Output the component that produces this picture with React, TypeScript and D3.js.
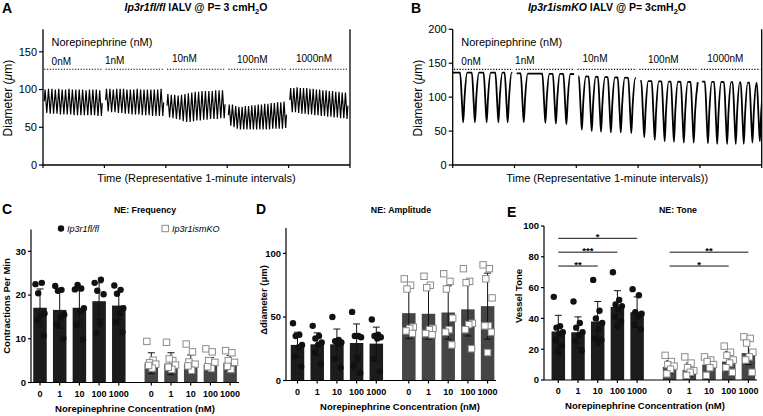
import React from "react";
import * as d3 from "d3";

const FONT = "'Liberation Sans', Arial, Helvetica, sans-serif";

// ---------------- DATA ----------------
const concLabels = ["0nM", "1nM", "10nM", "100nM", "1000nM"];
const neTickLabels = ["0", "1", "10", "100", "1000"];
const traceTicksA = [0, 50, 100, 150];
const traceTicksB = [0, 50, 100, 150, 200];

// Panel A: contraction peaks / troughs per 1-minute segment (µm)
const aPeaks = [
  [100, 101, 101, 100, 101, 100, 100, 101, 100, 100, 100, 100, 99, 100, 100, 100, 99],
  [101, 101, 100, 101, 101, 101, 100, 100, 100, 101, 100, 100, 100, 100, 100, 100, 101],
  [94, 93, 93, 92, 93, 94, 95, 96, 97, 97, 98, 98, 98, 98, 99, 99, 99],
  [80, 80, 78, 77, 77, 78, 78, 79, 79, 80, 80, 81, 81, 82, 82, 83, 83, 84],
  [102, 102, 103, 102, 102, 102, 101, 101, 100, 100, 99, 99, 98, 98, 97, 97, 96, 96],
];
const aTroughs = [
  [69, 68, 68, 68, 67, 67, 67, 67, 66, 66, 66, 66, 66, 66, 66, 65, 65],
  [71, 70, 70, 69, 69, 68, 68, 67, 67, 67, 66, 66, 66, 65, 65, 65, 65],
  [63, 62, 61, 60, 58, 57, 57, 58, 59, 59, 60, 60, 61, 61, 61, 62, 62],
  [52, 50, 48, 47, 47, 47, 47, 47, 47, 47, 47, 47, 47, 48, 48, 48, 48, 49],
  [70, 70, 69, 68, 68, 67, 67, 66, 66, 65, 65, 64, 64, 63, 63, 62, 62, 61],
];
const aRefLine = 127;

// Panel B: baseline (start, end), dip times (fraction of minute), dip minima (µm)
const bBaseline = [
  [136, 136],
  [135, 134],
  [131, 128],
  [124, 122],
  [123, 121],
];
const bDipTimes = [
  [0.17, 0.36, 0.55, 0.74, 0.89],
  [0.15, 0.5, 0.67, 0.84],
  [0.09, 0.25, 0.4, 0.56, 0.72, 0.89],
  [0.1, 0.27, 0.43, 0.58, 0.74, 0.9],
  [0.13, 0.28, 0.44, 0.58, 0.71, 0.85, 0.97],
];
const bDipMins = [
  [63, 63, 63, 63, 63],
  [63, 62, 61, 60],
  [52, 50, 49, 48, 48, 47],
  [41, 37, 35, 34, 33, 33],
  [32, 31, 31, 31, 31, 33, 35],
];
const bRefLine = 141;

// Panel C: frequency (contractions / min)
const freqWTMean = [17.1, 16.6, 17.1, 18.6, 17.6];
const freqWTSd = [4.3, 4.2, 3.9, 4.2, 3.2];
const freqWTPts = [
  [22.5, 22.8, 20.4, 15.8, 15.3, 14.2, 10.7],
  [22.1, 21.2, 21.0, 15.5, 14.8, 13.2, 10.1],
  [21.3, 21.5, 22.3, 17.0, 16.2, 13.2, 9.8],
  [22.8, 23.5, 21.0, 20.2, 13.5, 11.2],
  [22.2, 21.2, 20.3, 17.0, 15.8, 13.8, 11.5],
];
const freqKOMean = [4.4, 4.3, 4.3, 4.1, 4.5];
const freqKOSd = [2.4, 2.5, 2.0, 1.6, 1.7];
const freqKOPts = [
  [9.4, 5.1, 4.5, 4.2, 3.3, 3.9],
  [9.2, 5.0, 5.4, 4.0, 3.0, 3.5],
  [8.8, 7.0, 4.7, 4.2, 2.8, 3.8],
  [7.7, 7.0, 5.0, 4.6, 3.2, 3.6],
  [7.3, 6.8, 5.0, 4.6, 3.0, 3.7],
];

// Panel D: amplitude (Δdiameter µm)
const ampWTMean = [28, 28.5, 28.5, 29.5, 29];
const ampWTSd = [10, 9, 12, 15, 13];
const ampWTPts = [
  [45, 36, 35, 28, 26, 19, 11],
  [43, 35, 33, 30, 28, 22, 13],
  [50, 32, 31, 30, 29, 17, 10],
  [54, 35, 35, 34, 18, 11, 6],
  [48, 36, 35, 34, 33, 17, 7],
];
const ampKOMean = [53, 52.5, 53.5, 56, 58.5];
const ampKOSd = [20, 20, 21, 21, 26];
const ampKOPts = [
  [80, 75, 72, 42, 41, 39, 37],
  [82, 75, 73, 41, 40, 37, 36],
  [84, 78, 72, 49, 40, 38, 28],
  [88, 78, 77, 45, 44, 40, 25],
  [91, 88, 80, 65, 43, 43, 38, 22],
];

// Panel E: tone
const toneWTMean = [31.5, 31, 38, 47.5, 44];
const toneWTSd = [10.5, 10, 13, 10.5, 10];
const toneWTPts = [
  [54, 35, 34, 31, 30, 26, 22, 18],
  [51, 37, 34, 31, 29, 25, 19],
  [65, 45, 40, 37, 33, 27, 26, 24],
  [70, 52, 49, 48, 46, 41, 38, 35],
  [59, 55, 44, 43, 41, 36, 33],
];
const toneKOMean = [8.5, 6.5, 10, 12, 17.5];
const toneKOSd = [4, 4.5, 3.5, 6.5, 7.5];
const toneKOPts = [
  [16, 12, 10, 9, 7, 4],
  [15, 11, 8, 6, 5, 3],
  [15, 13, 12, 10, 8, 3],
  [22, 18, 16, 13, 11, 8, 5],
  [28, 27, 24, 18, 15, 13, 5],
];
const toneSig = [
  { group: 0, from: 0, to: 4, value: 92, label: "*" },
  { group: 0, from: 0, to: 3, value: 83, label: "***" },
  { group: 0, from: 0, to: 2, value: 74, label: "**" },
  { group: 1, from: 0, to: 4, value: 83, label: "**" },
  { group: 1, from: 0, to: 3, value: 74, label: "*" },
];

// ---------------- LAYOUT ----------------
const labelOffsets = [0.14, 0.01, 0.1, 0.16, 0.12];
const labelBaselines = [65, 64, 62.3, 63.3, 62.3];

type Pt = [number, number];

function pathsA(xs: any, ys: any) {
  const line = d3.line<Pt>().x((d) => xs(d[0])).y((d) => ys(d[1]));
  return aPeaks.map((peaks, s) => {
    const troughs = aTroughs[s];
    const n = peaks.length;
    const t0 = s + 0.02;
    const t1 = s + 0.965;
    const dt = (t1 - t0) / n;
    const pts: Pt[] = [[t0, (peaks[0] + troughs[0]) / 2]];
    peaks.forEach((p, k) => {
      pts.push([t0 + (k + 0.25) * dt, p]);
      pts.push([t0 + (k + 0.75) * dt, troughs[k]]);
    });
    pts.push([t1, (peaks[n - 1] + troughs[n - 1]) / 2]);
    return line(pts) as string;
  });
}

function pathsB(xs: any, ys: any) {
  const line = d3
    .line<Pt>()
    .x((d) => xs(d[0]))
    .y((d) => ys(d[1]))
    .curve(d3.curveMonotoneX);
  return bDipTimes.map((times, s) => {
    const [b0, b1] = bBaseline[s];
    const base = (t: number) => b0 + (b1 - b0) * (t - s);
    const t0 = s + (s === 0 ? 0.003 : 0.035);
    const t1 = s + 0.965;
    const pts: Pt[] = [[t0, base(t0)]];
    times.forEach((f, k) => {
      const t = s + f;
      const m = bDipMins[s][k];
      const cand: Pt[] = [
        [t - 0.05, base(t - 0.05)],
        [t - 0.018, base(t) * 0.35 + m * 0.65],
        [t, m],
        [t + 0.022, m * 0.5 + base(t) * 0.5],
        [t + 0.065, base(t + 0.065)],
      ];
      cand.forEach((p) => {
        if (p[0] > pts[pts.length - 1][0] + 0.003) pts.push(p);
      });
    });
    if (t1 > pts[pts.length - 1][0] + 0.003) pts.push([t1, base(t1)]);
    return line(pts) as string;
  });
}

function TracePanel(props: {
  id: string;
  x0: number;
  x1: number;
  y0: number;
  yTop: number;
  yMax: number;
  ticks: number[];
  refLine: number;
  kind: "A" | "B";
  letter: string;
  letterX: number;
  titleX: number;
  titleItalic: string;
  titleRest: string;
  ylabelX: number;
  xlabel: string;
  clipId: string;
}) {
  const xs = d3.scaleLinear().domain([0, 5]).range([props.x0, props.x1]);
  const ys = d3.scaleLinear().domain([0, props.yMax]).range([props.y0, props.yTop]);
  const paths = props.kind === "A" ? pathsA(xs, ys) : pathsB(xs, ys);
  const segs = d3.range(5);
  return (
    <g>
      <defs>
        <clipPath id={props.clipId}>
          <rect x={props.x0} y={props.yTop - 5} width={props.x1 - props.x0} height={props.y0 - props.yTop + 5} />
        </clipPath>
      </defs>
      <text x={props.letterX} y={13} fontSize={14} fontWeight="bold">
        {props.letter}
      </text>
      <text x={props.titleX} y={11} fontSize={10.5} fontWeight="bold" textAnchor="middle">
        <tspan fontStyle="italic">{props.titleItalic}</tspan>
        <tspan>{props.titleRest}</tspan>
        <tspan fontSize={7.5} dy={2.5}>2</tspan>
        <tspan dy={-2.5}>O</tspan>
      </text>
      {/* axes */}
      <line x1={props.x0} x2={props.x0} y1={props.yTop} y2={props.y0} stroke="#000" strokeWidth={1.3} />
      <line x1={props.x1} x2={props.x1} y1={props.yTop} y2={props.y0} stroke="#000" strokeWidth={1.3} />
      <line x1={props.x0} x2={props.x1} y1={props.y0} y2={props.y0} stroke="#000" strokeWidth={1.3} />
      {props.ticks.map((t) => (
        <g key={t}>
          <line x1={props.x0 - 4} x2={props.x0} y1={ys(t)} y2={ys(t)} stroke="#000" strokeWidth={1.2} />
          <text x={props.x0 - 6} y={ys(t)} dy="0.35em" fontSize={11} textAnchor="end">
            {t}
          </text>
        </g>
      ))}
      {d3.range(6).map((i) => (
        <line key={i} x1={xs(i)} x2={xs(i)} y1={props.y0} y2={props.y0 + 3} stroke="#000" strokeWidth={1.2} />
      ))}
      <text
        transform={`translate(${props.ylabelX},${(props.y0 + props.yTop) / 2 + 1}) rotate(-90)`}
        fontSize={12}
        textAnchor="middle"
        dominantBaseline="central"
      >
        Diameter (<tspan fontStyle="italic">μ</tspan>m)
      </text>
      <text x={(props.x0 + props.x1) / 2} y={182} fontSize={11} textAnchor="middle">
        {props.xlabel}
      </text>
      <text x={xs(0) + 8.5} y={46} fontSize={11}>
        Norepinephrine (nM)
      </text>
      {segs.map((s) => (
        <g key={s}>
          <line
            x1={xs(s + 0.02)}
            x2={xs(s + 0.975)}
            y1={ys(props.refLine)}
            y2={ys(props.refLine)}
            stroke="#000"
            strokeWidth={1.1}
            strokeDasharray="1.2,1.6"
          />
          <text x={xs(s + labelOffsets[s])} y={labelBaselines[s]} fontSize={10}>
            {concLabels[s]}
          </text>
        </g>
      ))}
      <g clipPath={`url(#${props.clipId})`}>
        {paths.map((p, i) => (
          <path key={i} d={p} fill="none" stroke="#000" strokeWidth={props.kind === "A" ? 1.2 : 1.8} />
        ))}
      </g>
    </g>
  );
}

const jitter = (i: number) => (((i * 7) % 11) - 5) * 0.9;

function BarPanel(props: {
  axisX: number;
  x0: number;
  y0: number;
  yTop: number;
  yMax: number;
  ticks: number[];
  xEnd: number;
  letter: string;
  letterPos: [number, number];
  title: string;
  titleX: number;
  ylabel: React.ReactNode;
  ylabelPos: [number, number];
  xtitleX: number;
  wtMean: number[];
  wtSd: number[];
  wtPts: number[][];
  koMean: number[];
  koSd: number[];
  koPts: number[][];
  sig?: typeof toneSig;
  legend?: boolean;
}) {
  const y = d3.scaleLinear().domain([0, props.yMax]).range([props.y0, props.yTop]);
  const slot = d3.scaleLinear().domain([0, 1]).range([props.x0, props.x0 + 19.7]);
  const pos = (g: number, j: number) => slot(g === 0 ? j : j + 5.65);
  const bw = 13.5;
  const groups = [
    { mean: props.wtMean, sd: props.wtSd, pts: props.wtPts, fill: "#1c1c1c" },
    { mean: props.koMean, sd: props.koSd, pts: props.koPts, fill: "#454545" },
  ];
  return (
    <g>
      <text x={props.letterPos[0]} y={props.letterPos[1]} fontSize={14} fontWeight="bold">
        {props.letter}
      </text>
      <text x={props.titleX} y={213} fontSize={8.8} fontWeight="bold" textAnchor="middle">
        {props.title}
      </text>
      {props.legend && (
        <g fontSize={9} fontStyle="italic">
          <circle cx={61} cy={228.5} r={3.2} fill="#111" />
          <text x={67} y={231.5}>Ip3r1fl/fl</text>
          <rect x={162} y={225.3} width={6.4} height={6.4} fill="#fff" stroke="#8c8c8c" strokeWidth={1} />
          <text x={172} y={231.5}>Ip3r1ismKO</text>
        </g>
      )}
      {/* bars */}
      {groups.map((gr, g) =>
        gr.mean.map((m, j) => (
          <rect
            key={`b${g}${j}`}
            x={pos(g, j) - bw / 2}
            y={y(m)}
            width={bw}
            height={props.y0 - y(m)}
            fill={gr.fill}
          />
        ))
      )}
      {/* error bars */}
      {groups.map((gr, g) =>
        gr.mean.map((m, j) => {
          const cx = pos(g, j);
          const hi = y(m + gr.sd[j]);
          const lo = y(Math.max(0, m - gr.sd[j]));
          return (
            <g key={`e${g}${j}`} stroke="#111" strokeWidth={1}>
              <line x1={cx} x2={cx} y1={hi} y2={lo} />
              <line x1={cx - 3.5} x2={cx + 3.5} y1={hi} y2={hi} />
              <line x1={cx - 3.5} x2={cx + 3.5} y1={lo} y2={lo} />
            </g>
          );
        })
      )}
      {/* points */}
      {groups.map((gr, g) =>
        gr.pts.map((arr, j) =>
          arr.map((v, i) =>
            g === 0 ? (
              <circle key={`p${g}${j}${i}`} cx={pos(g, j) + jitter(i)} cy={y(v)} r={3.2} fill="#111" />
            ) : (
              <rect
                key={`p${g}${j}${i}`}
                x={pos(g, j) + jitter(i) - 3.2}
                y={y(v) - 3.2}
                width={6.4}
                height={6.4}
                fill="#fff"
                stroke="#8c8c8c"
                strokeWidth={1}
              />
            )
          )
        )
      )}
      {/* significance */}
      {(props.sig || []).map((s, k) => {
        const xa = pos(s.group, s.from);
        const xb = pos(s.group, s.to);
        const yy = y(s.value);
        return (
          <g key={`s${k}`}>
            <line x1={xa} x2={xb} y1={yy} y2={yy} stroke="#111" strokeWidth={1} />
            <text x={(xa + xb) / 2} y={yy + 1.5} fontSize={9.5} fontWeight="bold" textAnchor="middle">
              {s.label}
            </text>
          </g>
        );
      })}
      {/* axes */}
      <line x1={props.axisX} x2={props.axisX} y1={props.yTop} y2={props.y0} stroke="#000" strokeWidth={1.2} />
      <line x1={props.axisX} x2={props.xEnd} y1={props.y0} y2={props.y0} stroke="#000" strokeWidth={1.2} />
      {props.ticks.map((t) => (
        <g key={t}>
          <line x1={props.axisX - 3} x2={props.axisX} y1={y(t)} y2={y(t)} stroke="#000" strokeWidth={1.2} />
          <text x={props.axisX - 5} y={y(t)} dy="0.35em" fontSize={9.5} fontWeight="bold" textAnchor="end">
            {t}
          </text>
        </g>
      ))}
      {[0, 1].map((g) =>
        neTickLabels.map((lab, j) => (
          <g key={`t${g}${j}`}>
            <line x1={pos(g, j)} x2={pos(g, j)} y1={props.y0} y2={props.y0 + 3} stroke="#000" strokeWidth={1.2} />
            <text x={pos(g, j)} y={props.y0 + 14} fontSize={9} fontWeight="bold" textAnchor="middle">
              {lab}
            </text>
          </g>
        ))
      )}
      <text
        transform={`translate(${props.ylabelPos[0]},${props.ylabelPos[1]}) rotate(-90)`}
        fontSize={9.5}
        fontWeight="bold"
        textAnchor="middle"
        dominantBaseline="central"
      >
        {props.ylabel}
      </text>
      <text x={props.xtitleX} y={props.y0 + 29} fontSize={9.5} fontWeight="bold" textAnchor="middle">
        Norepinephrine Concentration (nM)
      </text>
    </g>
  );
}

export default function App() {
  return (
    <div style={{ position: "absolute", left: 0, top: 0, width: 763, height: 416, background: "#fff" }}>
      <svg width={763} height={416} style={{ display: "block", fontFamily: FONT }}>
        <rect width={763} height={416} fill="#fff" />
        <TracePanel
          id="A"
          clipId="clipA"
          x0={43}
          x1={350}
          y0={165}
          yTop={29.2}
          yMax={180}
          ticks={traceTicksA}
          refLine={aRefLine}
          kind="A"
          letter="A"
          letterX={2}
          titleX={196}
          titleItalic="Ip3r1fl/fl"
          titleRest=" lALV @ P= 3 cmH"
          ylabelX={7.5}
          xlabel="Time (Representative 1-minute intervals)"
        />
        <TracePanel
          id="B"
          clipId="clipB"
          x0={452.7}
          x1={761.7}
          y0={165}
          yTop={29.3}
          yMax={200}
          ticks={traceTicksB}
          refLine={bRefLine}
          kind="B"
          letter="B"
          letterX={411}
          titleX={607}
          titleItalic="Ip3r1ismKO"
          titleRest=" lALV @ P= 3cmH"
          ylabelX={417.5}
          xlabel="Time (Representative 1-minute intervals))"
        />
        <BarPanel
          axisX={31}
          x0={40}
          y0={382.5}
          yTop={229.5}
          yMax={35}
          ticks={[0, 10, 20, 30]}
          xEnd={239}
          letter="C"
          letterPos={[2, 214]}
          title="NE: Frequency"
          titleX={145}
          ylabel="Contractions Per Min"
          ylabelPos={[6, 306]}
          xtitleX={135}
          wtMean={freqWTMean}
          wtSd={freqWTSd}
          wtPts={freqWTPts}
          koMean={freqKOMean}
          koSd={freqKOSd}
          koPts={freqKOPts}
          legend
        />
        <BarPanel
          axisX={286}
          x0={297.5}
          y0={380.5}
          yTop={228}
          yMax={120}
          ticks={[0, 50, 100]}
          xEnd={496}
          letter="D"
          letterPos={[256, 214]}
          title="NE: Amplitude"
          titleX={401}
          ylabel="Δdiameter (μm)"
          ylabelPos={[263.5, 300]}
          xtitleX={400}
          wtMean={ampWTMean}
          wtSd={ampWTSd}
          wtPts={ampWTPts}
          koMean={ampKOMean}
          koSd={ampKOSd}
          koPts={ampKOPts}
        />
        <BarPanel
          axisX={544}
          x0={558.3}
          y0={380}
          yTop={226}
          yMax={100}
          ticks={[0, 20, 40, 60, 80, 100]}
          xEnd={757}
          letter="E"
          letterPos={[507, 217]}
          title="NE: Tone"
          titleX={678}
          ylabel="Vessel Tone"
          ylabelPos={[518, 296]}
          xtitleX={645}
          wtMean={toneWTMean}
          wtSd={toneWTSd}
          wtPts={toneWTPts}
          koMean={toneKOMean}
          koSd={toneKOSd}
          koPts={toneKOPts}
          sig={toneSig}
        />
      </svg>
    </div>
  );
}
